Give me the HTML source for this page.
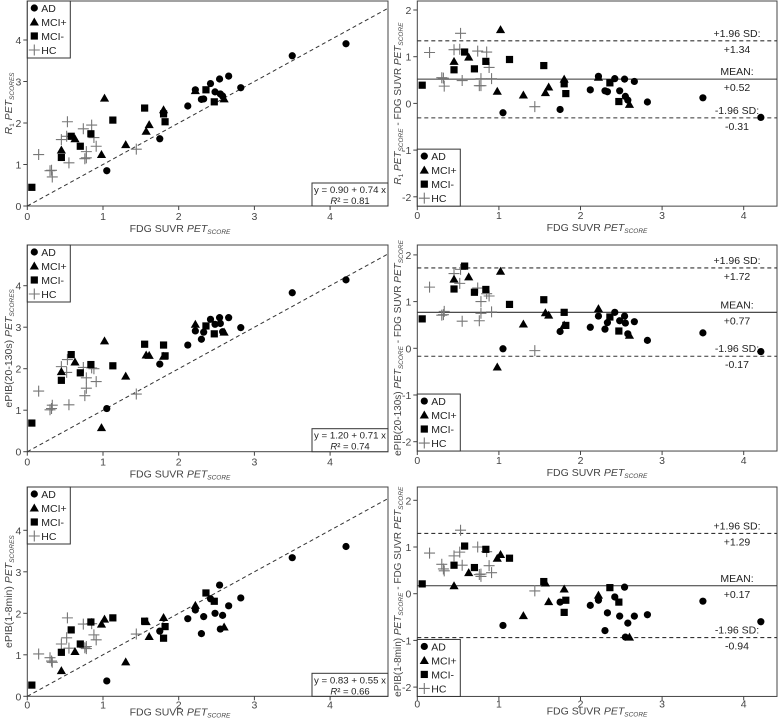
<!DOCTYPE html>
<html><head><meta charset="utf-8">
<style>
html,body{margin:0;padding:0;background:#fff;}
svg{display:block;font-family:"Liberation Sans",Arial,sans-serif;}
</style></head>
<body>
<svg id="chart" width="778" height="722" viewBox="0 0 778 722" xmlns="http://www.w3.org/2000/svg"></svg>
<script>
// Shared FDG SUVR x-values per group
const fdgAD=[1.05,1.75,2.12,2.22,2.30,2.33,2.42,2.48,2.54,2.55,2.58,2.66,2.82,3.50,4.21];
const fdgMCIp=[0.45,0.63,0.98,1.02,1.30,1.57,1.61,1.80,2.22,2.60];
const fdgMCIm=[0.06,0.45,0.58,0.70,0.84,1.13,1.55,1.80,1.82,2.36,2.47];
const fdgHC=[0.15,0.30,0.32,0.33,0.45,0.53,0.52,0.55,0.74,0.76,0.78,0.78,0.85,0.88,0.91,1.44];
// R1 scores
const r1AD=[0.85,1.62,2.41,2.80,2.57,2.58,2.95,2.75,3.06,2.70,2.65,3.13,2.85,3.62,3.91];
const r1MCIp=[1.35,1.62,1.24,2.60,1.48,1.80,1.96,2.32,2.78,2.58];
const r1MCIm=[0.45,1.17,1.68,1.44,1.74,2.07,2.36,2.22,2.03,2.80,2.51];
const r1HC=[1.24,0.85,0.86,0.70,1.60,2.03,1.68,1.04,1.86,1.14,1.31,1.16,1.95,1.65,1.44,1.37];
// ePIB(20-130s)
const e20AD=[1.04,2.11,2.57,2.91,2.71,2.88,3.19,3.07,3.23,3.09,2.89,3.23,2.99,3.83,4.14];
const e20MCIp=[1.93,2.16,0.58,2.67,1.82,2.33,2.32,2.30,3.07,2.88];
const e20MCIm=[0.69,1.72,2.34,1.90,2.10,2.07,2.59,2.57,2.31,3.03,2.84];
const e20HC=[1.46,1.01,1.04,1.12,2.05,2.22,1.91,1.13,2.03,1.35,1.53,1.78,2.02,2.00,1.69,1.39];
// ePIB(1-8min)
const e18AD=[0.37,1.57,1.87,2.08,1.51,1.92,2.35,2.00,2.68,1.62,1.95,2.18,2.37,3.34,3.61];
const e18MCIp=[0.62,1.08,1.74,1.86,0.83,1.80,1.44,1.90,2.19,1.67];
const e18MCIm=[0.27,1.06,1.60,1.26,1.79,1.89,1.81,1.40,1.68,2.49,2.29];
const e18HC=[1.02,0.93,0.85,0.82,1.26,1.89,1.41,1.16,1.74,1.17,1.20,1.15,1.75,1.48,1.36,1.50];
// Summary stats
const regLabels=["y = 0.90 + 0.74 x","y = 1.20 + 0.71 x","y = 0.83 + 0.55 x"];
const r2Labels=["0.81","0.74","0.66"];
const meanVals=[0.52,0.77,0.17];
const upperVals=[1.34,1.72,1.29];
const lowerVals=[-0.31,-0.17,-0.94];
const xTicks=[0,1,2,3,4];
const leftYTicks=[0,1,2,3,4];
const rightYTicks=[-2,-1,0,1,2];
const groupNames=["AD","MCI+","MCI-","HC"];
const yTitles=[["R","1"," PET","SCORES"],["ePIB(20-130s)",""," PET","SCORES"],["ePIB(1-8min)",""," PET","SCORES"]];

const NS="http://www.w3.org/2000/svg";
const svg=document.getElementById('chart');
function mk(tag,attrs,parent){const e=document.createElementNS(NS,tag);for(const k in attrs)e.setAttribute(k,attrs[k]);(parent||svg).appendChild(e);return e;}
const C="#222";

function marker(g,type,px,py){
  let e;
  if(type===0){e=mk('circle',{cx:px,cy:py,r:3.6,fill:'#000'},g);}
  else if(type===1){e=mk('polygon',{points:`${px},${py-4.5} ${px-4.6},${py+3.5} ${px+4.6},${py+3.5}`,fill:'#000'},g);}
  else if(type===2){e=mk('rect',{x:px-3.6,y:py-3.6,width:7.2,height:7.2,fill:'#000'},g);}
  else {e=mk('path',{d:`M${px-5.5},${py}H${px+5.5}M${px},${py-5.5}V${py+5.5}`,stroke:'#777',"stroke-width":1.1,fill:'none'},g);}
  return e;
}
function legend(g,lx,ly){
  const box=mk('rect',{x:lx,y:ly,width:43,height:57,fill:'#fff',stroke:'#333',"stroke-width":1},g);
  
  
  groupNames.forEach((n,i)=>{
    const yy=ly+7+i*14;
    const m=marker(g,i,lx+7,yy);
    
    
    const t=mk('text',{x:lx+14,y:yy+4,"font-size":10.5,fill:C},g);t.textContent=n;
    
    
  });
}
function xLabel(g,cx,y){
  const t=mk('text',{x:cx,y:y,"font-size":10.5,fill:'#444',"text-anchor":"middle"},g);
  
  
  t.appendChild(document.createTextNode('FDG SUVR '));
  const a=mk('tspan',{"font-style":"italic"},t);a.textContent='PET';
  const b=mk('tspan',{"font-style":"italic","font-size":6.5,dy:2},t);b.textContent='SCORE';
}

const groupsX=[fdgAD,fdgMCIp,fdgMCIm,fdgHC];
const panelsY=[[r1AD,r1MCIp,r1MCIm,r1HC],[e20AD,e20MCIp,e20MCIm,e20HC],[e18AD,e18MCIp,e18MCIm,e18HC]];
const leftY0=[206,451.7,696.3], leftTop=[1,245,487];
const rightY0=[103.4,348.3,593.7], rightTop=[1,245,487];
const xLabOff=[26,26,19], tickOff=[14,14,12];

for(let r=0;r<3;r++){
  // ---------- Left scatter ----------
  const gL=mk('g',{});
  
  
  const x0=27.3,xu=75.7,y0=leftY0[r],yu=41.5,top=leftTop[r],right=388;
  const X=v=>x0+v*xu, Y=v=>y0-v*yu;
  mk('rect',{x:x0,y:top,width:right-x0,height:y0-top,fill:'none',stroke:'#444',"stroke-width":1},gL);
  const xmaxV=(right-x0)/xu, ymaxV=(y0-top)/yu, lim=Math.min(xmaxV,ymaxV);
  const idl=mk('line',{x1:X(0),y1:Y(0),x2:X(lim),y2:Y(lim),stroke:'#333',"stroke-width":1,"stroke-dasharray":"4,3"},gL);
  
  
  xTicks.forEach(v=>{mk('line',{x1:X(v),y1:y0,x2:X(v),y2:y0+4,stroke:'#444'},gL);
    const t=mk('text',{x:X(v),y:y0+tickOff[r],"font-size":10.5,fill:'#444',"text-anchor":"middle"},gL);t.textContent=v;
    });
  leftYTicks.forEach(v=>{mk('line',{x1:x0-4,y1:Y(v),x2:x0,y2:Y(v),stroke:'#444'},gL);
    const t=mk('text',{x:x0-6,y:Y(v)+4,"font-size":10.5,fill:'#444',"text-anchor":"end"},gL);t.textContent=v;
    });
  [3,0,1,2].forEach(gi=>{
    groupsX[gi].forEach((xv,i)=>{const m=marker(gL,gi,X(xv),Y(panelsY[r][gi][i]));
      
      });
  });
  legend(gL,x0,top);
  const eb=mk('rect',{x:312,y:y0-23,width:right-312,height:23,fill:'#fff',stroke:'#333'},gL);
  
  const e1=mk('text',{x:314,y:y0-13,"font-size":9.5,fill:C,textLength:72,lengthAdjust:"spacingAndGlyphs"},gL);e1.textContent=regLabels[r];
  
  const e2=mk('text',{x:350,y:y0-2,"font-size":9.5,fill:C,"text-anchor":"middle"},gL);
  
  const it=mk('tspan',{"font-style":"italic"},e2);it.textContent='R';
  e2.appendChild(document.createTextNode('² = '+r2Labels[r]));
  xLabel(gL,180,y0+xLabOff[r]);
  const yt=mk('text',{transform:`translate(12,${(top+y0)/2}) rotate(-90)`,"font-size":10.5,fill:'#444',"text-anchor":"middle"},gL);
  
  const tt=yTitles[r];
  const a=mk('tspan',{"font-style":r===0?"italic":"normal"},yt);a.textContent=tt[0];
  if(tt[1]){const s=mk('tspan',{"font-size":6.5,dy:2},yt);s.textContent=tt[1];const b=mk('tspan',{dy:-2,"font-style":"italic"},yt);b.textContent=tt[2];}
  else{const b=mk('tspan',{"font-style":"italic"},yt);b.textContent=tt[2];}
  const s2=mk('tspan',{"font-size":6.5,dy:2,"font-style":"italic"},yt);s2.textContent=tt[3];

  // ---------- Right Bland-Altman ----------
  const gR=mk('g',{});
  
  
  const rx0=417.3,rxu=81.6,ry0=rightY0[r],ryu=46.7,rtop=rightTop[r],rright=777;
  const RX=v=>rx0+v*rxu, RY=v=>ry0-v*ryu;
  const rbot=RY(-2.2);
  mk('rect',{x:rx0,y:rtop,width:rright-rx0,height:rbot-rtop,fill:'none',stroke:'#444'},gR);
  xTicks.forEach(v=>{mk('line',{x1:RX(v),y1:rbot,x2:RX(v),y2:rbot+4,stroke:'#444'},gR);
    const t=mk('text',{x:RX(v),y:rbot+tickOff[r]-1,"font-size":10.5,fill:'#444',"text-anchor":"middle"},gR);t.textContent=v;
    });
  rightYTicks.forEach(v=>{mk('line',{x1:rx0-4,y1:RY(v),x2:rx0,y2:RY(v),stroke:'#444'},gR);
    const t=mk('text',{x:rx0-6,y:RY(v)+4,"font-size":10.5,fill:'#444',"text-anchor":"end"},gR);t.textContent=v;
    });
  const lines=[[upperVals[r],'4,3','+1.96 SD:','upper-limit-line'],[meanVals[r],null,'MEAN:','mean-line'],[lowerVals[r],'4,3','-1.96 SD:','lower-limit-line']];
  lines.forEach(([v,d,lab,nm])=>{
    const at={x1:rx0,y1:RY(v),x2:rright,y2:RY(v),stroke:'#333',"stroke-width":1.1};if(d)at["stroke-dasharray"]=d;
    const l=mk('line',at,gR);
    const t1=mk('text',{x:737,y:RY(v)-4,"font-size":10.5,fill:C,"text-anchor":"middle"},gR);t1.textContent=lab;
    
    const t2=mk('text',{x:737,y:RY(v)+12,"font-size":10.5,fill:C,"text-anchor":"middle"},gR);t2.textContent=(v>=0?'+':'')+v.toFixed(2);
    
  });
  [3,0,1,2].forEach(gi=>{
    groupsX[gi].forEach((xv,i)=>{const m=marker(gR,gi,RX(xv),RY(panelsY[r][gi][i]-xv));
      
      });
  });
  legend(gR,rx0,rbot-57);
  xLabel(gR,597,rbot+xLabOff[r]-1);
  const yt2=mk('text',{transform:`translate(401,${(rtop+rbot)/2}) rotate(-90)`,"font-size":10,fill:'#444',"text-anchor":"middle"},gR);
  
  const c=mk('tspan',{"font-style":r===0?"italic":"normal"},yt2);c.textContent=tt[0];
  if(tt[1]){const s=mk('tspan',{"font-size":6.5,dy:2},yt2);s.textContent=tt[1];const b=mk('tspan',{dy:-2,"font-style":"italic"},yt2);b.textContent=' PET';}
  else{const b=mk('tspan',{"font-style":"italic"},yt2);b.textContent=' PET';}
  const s3=mk('tspan',{"font-size":6.5,dy:2,"font-style":"italic"},yt2);s3.textContent='SCORE';
  const m2=mk('tspan',{dy:-2},yt2);m2.textContent=' - FDG SUVR ';
  const p2=mk('tspan',{"font-style":"italic"},yt2);p2.textContent='PET';
  const s4=mk('tspan',{"font-size":6.5,dy:2,"font-style":"italic"},yt2);s4.textContent='SCORE';
}
</script>
</body></html>
